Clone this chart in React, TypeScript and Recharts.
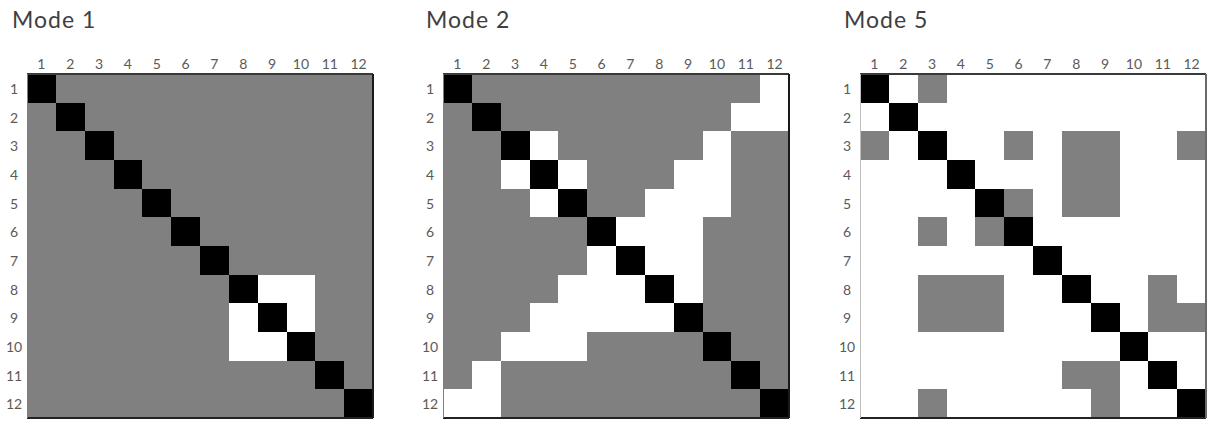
import React from 'react';
import { BarChart, Bar, Cell, XAxis, YAxis } from 'recharts';

const rowLabels = ['1', '2', '3', '4', '5', '6', '7', '8', '9', '10', '11', '12'];
const colLabels = ['1', '2', '3', '4', '5', '6', '7', '8', '9', '10', '11', '12'];

// 0 = white, 1 = grey, 2 = black (diagonal)
const mode1: number[][] = [
  [2, 1, 1, 1, 1, 1, 1, 1, 1, 1, 1, 1],
  [1, 2, 1, 1, 1, 1, 1, 1, 1, 1, 1, 1],
  [1, 1, 2, 1, 1, 1, 1, 1, 1, 1, 1, 1],
  [1, 1, 1, 2, 1, 1, 1, 1, 1, 1, 1, 1],
  [1, 1, 1, 1, 2, 1, 1, 1, 1, 1, 1, 1],
  [1, 1, 1, 1, 1, 2, 1, 1, 1, 1, 1, 1],
  [1, 1, 1, 1, 1, 1, 2, 1, 1, 1, 1, 1],
  [1, 1, 1, 1, 1, 1, 1, 2, 0, 0, 1, 1],
  [1, 1, 1, 1, 1, 1, 1, 0, 2, 0, 1, 1],
  [1, 1, 1, 1, 1, 1, 1, 0, 0, 2, 1, 1],
  [1, 1, 1, 1, 1, 1, 1, 1, 1, 1, 2, 1],
  [1, 1, 1, 1, 1, 1, 1, 1, 1, 1, 1, 2],
];

const mode2: number[][] = [
  [2, 1, 1, 1, 1, 1, 1, 1, 1, 1, 1, 0],
  [1, 2, 1, 1, 1, 1, 1, 1, 1, 1, 0, 0],
  [1, 1, 2, 0, 1, 1, 1, 1, 1, 0, 1, 1],
  [1, 1, 0, 2, 0, 1, 1, 1, 0, 0, 1, 1],
  [1, 1, 1, 0, 2, 1, 1, 0, 0, 0, 1, 1],
  [1, 1, 1, 1, 1, 2, 0, 0, 0, 1, 1, 1],
  [1, 1, 1, 1, 1, 0, 2, 0, 0, 1, 1, 1],
  [1, 1, 1, 1, 0, 0, 0, 2, 0, 1, 1, 1],
  [1, 1, 1, 0, 0, 0, 0, 0, 2, 1, 1, 1],
  [1, 1, 0, 0, 0, 1, 1, 1, 1, 2, 1, 1],
  [1, 0, 1, 1, 1, 1, 1, 1, 1, 1, 2, 1],
  [0, 0, 1, 1, 1, 1, 1, 1, 1, 1, 1, 2],
];

const mode5: number[][] = [
  [2, 0, 1, 0, 0, 0, 0, 0, 0, 0, 0, 0],
  [0, 2, 0, 0, 0, 0, 0, 0, 0, 0, 0, 0],
  [1, 0, 2, 0, 0, 1, 0, 1, 1, 0, 0, 1],
  [0, 0, 0, 2, 0, 0, 0, 1, 1, 0, 0, 0],
  [0, 0, 0, 0, 2, 1, 0, 1, 1, 0, 0, 0],
  [0, 0, 1, 0, 1, 2, 0, 0, 0, 0, 0, 0],
  [0, 0, 0, 0, 0, 0, 2, 0, 0, 0, 0, 0],
  [0, 0, 1, 1, 1, 0, 0, 2, 0, 0, 1, 0],
  [0, 0, 1, 1, 1, 0, 0, 0, 2, 0, 1, 1],
  [0, 0, 0, 0, 0, 0, 0, 0, 0, 2, 0, 0],
  [0, 0, 0, 0, 0, 0, 0, 1, 1, 0, 2, 0],
  [0, 0, 1, 0, 0, 0, 0, 0, 1, 0, 0, 2],
];

const titles = ['Mode 1', 'Mode 2', 'Mode 5'];

const palette = ['#ffffff', '#808080', '#000000'];
const FONT = 'Lato, "Open Sans", sans-serif';

const RowTick = (props: any) => {
  const { x, y, payload } = props;
  return (
    <text x={x - 13} y={y} textAnchor="middle" dominantBaseline="central" fontSize={14} fill="#5a5a5a" fontFamily={FONT}>
      {payload.value}
    </text>
  );
};

function Matrix({
  title,
  cells,
  plotLeft,
  titleLeft,
  leftLine,
  rightLine,
}: {
  title: string;
  cells: number[][];
  plotLeft: number;
  titleLeft: number;
  leftLine: string;
  rightLine: string;
}) {
  const data = rowLabels.map((r) => {
    const o: any = { row: r };
    colLabels.forEach((c) => {
      o['c' + c] = 1;
    });
    return o;
  });
  const colTicks = colLabels.map((_, i) => i + 0.5);
  return (
    <>
      <div
        style={{
          position: 'absolute',
          left: titleLeft,
          top: 5,
          fontFamily: FONT,
          fontSize: 23,
          lineHeight: '28px',
          letterSpacing: 1,
          color: '#404040',
          whiteSpace: 'nowrap',
        }}
      >
        {title}
      </div>
      <div style={{ position: 'absolute', left: plotLeft - 27, top: 0 }}>
        <BarChart
          width={379}
          height={426}
          data={data}
          layout="vertical"
          margin={{ top: 54, right: 4, bottom: 6, left: 5 }}
          barCategoryGap={0}
          barGap={0}
          style={{ shapeRendering: 'crispEdges' }}
        >
          {colLabels.map((c, j) => (
            <Bar key={c} dataKey={'c' + c} stackId="m" isAnimationActive={false}>
              {cells.map((row, i) => (
                <Cell key={i} fill={palette[row[j]]} />
              ))}
            </Bar>
          ))}
          <XAxis
            type="number"
            orientation="top"
            domain={[0, 12]}
            ticks={colTicks}
            interval={0}
            tickFormatter={(v: number) => colLabels[Math.round(v - 0.5)]}
            height={20}
            tickLine={false}
            tickSize={0}
            tickMargin={5}
            axisLine={{ stroke: '#3a3a3a', strokeWidth: 2 }}
            tick={{ fontSize: 14, fill: '#5a5a5a', fontFamily: FONT }}
          />
          <XAxis
            xAxisId="b"
            type="number"
            orientation="bottom"
            domain={[0, 12]}
            height={2}
            tick={false}
            tickLine={false}
            axisLine={{ stroke: '#222', strokeWidth: 2.5 }}
          />
          <YAxis
            type="category"
            dataKey="row"
            width={22}
            interval={0}
            tickLine={false}
            tickSize={0}
            tickMargin={0}
            axisLine={{ stroke: leftLine, strokeWidth: 1 }}
            tick={<RowTick />}
          />
          <YAxis
            yAxisId="r"
            orientation="right"
            type="number"
            domain={[0, 1]}
            width={2}
            tick={false}
            tickLine={false}
            axisLine={{ stroke: rightLine, strokeWidth: 2.5 }}
          />
        </BarChart>
      </div>
    </>
  );
}

export default function App() {
  return (
    <div style={{ position: 'absolute', left: 0, top: 0, width: 1216, height: 426, background: '#fff' }}>
      <Matrix title={titles[0]} cells={mode1} plotLeft={27} titleLeft={12} leftLine="#808080" rightLine="#1a1a1a" />
      <Matrix title={titles[1]} cells={mode2} plotLeft={443} titleLeft={426} leftLine="#808080" rightLine="#1a1a1a" />
      <Matrix title={titles[2]} cells={mode5} plotLeft={860} titleLeft={844} leftLine="#bdbdbd" rightLine="#6a6a6a" />
    </div>
  );
}
